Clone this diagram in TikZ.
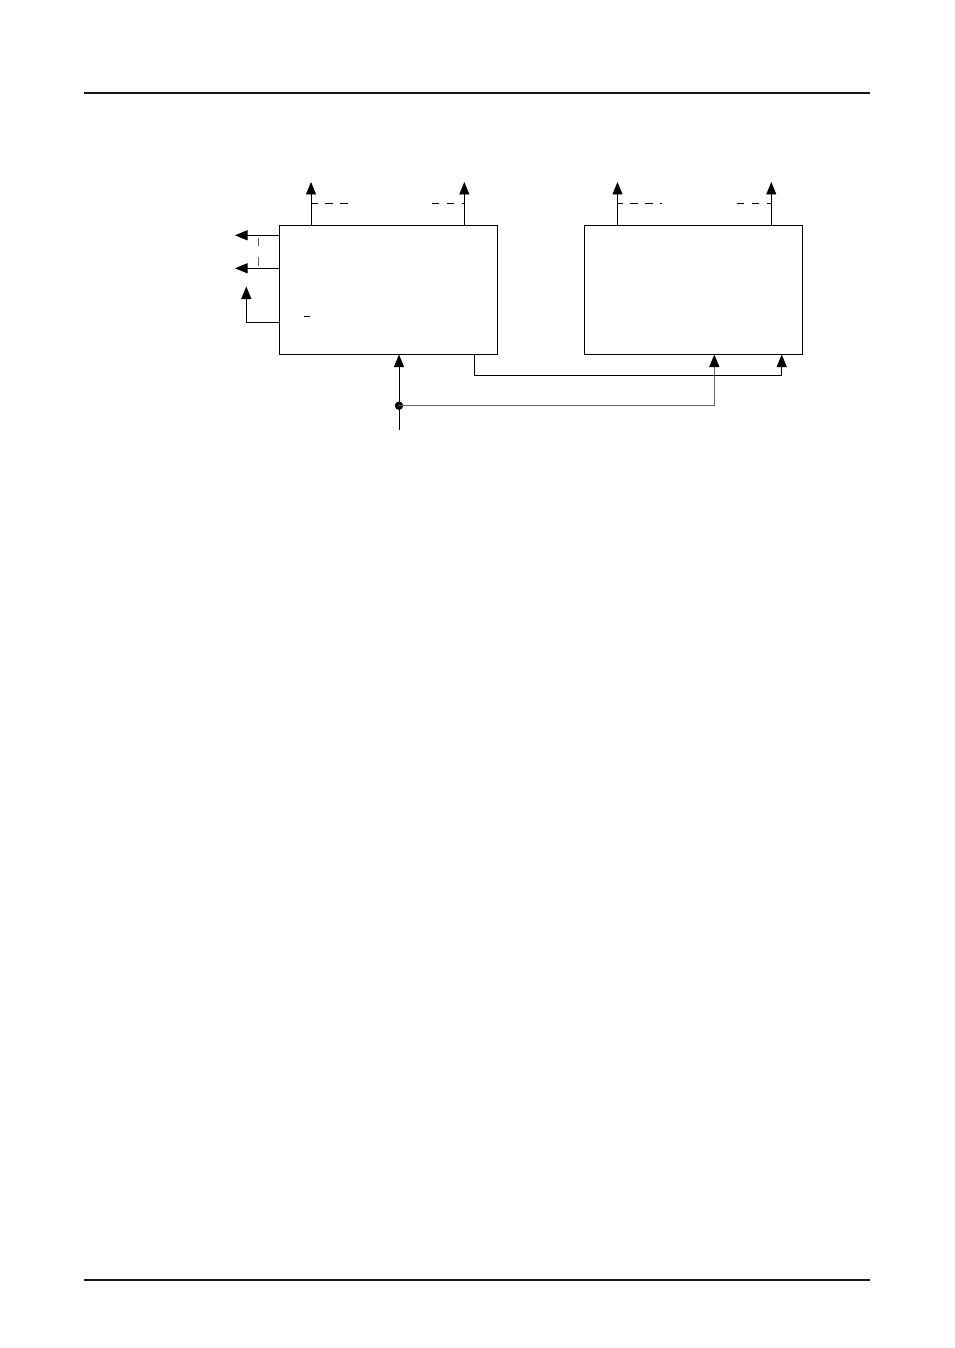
\documentclass[tikz,border=0pt]{standalone}
\usetikzlibrary{arrows.meta,calc}
\begin{document}
\begin{tikzpicture}[x=1pt,y=-1pt,
  blk/.style={draw,line width=0.9pt,minimum width=218pt,minimum height=129pt,inner sep=0pt,outer sep=0pt,anchor=north west},
  ln/.style={line width=0.9pt},
  arr/.style={line width=0.9pt,-{Triangle[length=12.5pt,width=10pt]}},
  dsh/.style={line width=0.9pt,dash pattern=on 7.5pt off 7.5pt},
  gdsh/.style={line width=0.9pt,draw=black!60,dash pattern=on 8.5pt off 11pt},
  rule/.style={line width=1.6pt,draw=black!90}]
\useasboundingbox (0,0) rectangle (954,1348);
% page rules
\coordinate (r1a) at (84,93); \coordinate (r1b) at (870,93);
\coordinate (r2a) at (84,1280); \coordinate (r2b) at (870,1280);
\draw[rule] (r1a) -- (r1b);
\draw[rule] (r2a) -- (r2b);
% blocks
\node[blk] (A) at (279,225.5) {};
\node[blk] (B) at (584.5,225.5) {};
% top outputs of A
\coordinate (a1t) at (311,182);
\coordinate (a2t) at (464.3,182);
\draw[arr] (A.north west -| a1t) -- (a1t);
\draw[arr] (A.north west -| a2t) -- (a2t);
\coordinate (a1d) at (311,203.3); \coordinate (a1e) at (348,203.3);
\coordinate (a2d) at (431.7,203.3); \coordinate (a2e) at (464.3,203.3);
\draw[dsh,dash phase=1pt] (a1d) -- (a1e);
\draw[dsh,dash pattern=on 7pt off 8pt] (a2d) -- (a2e);
% top outputs of B
\coordinate (b1t) at (617.5,182);
\coordinate (b2t) at (771.3,182);
\draw[arr] (B.north west -| b1t) -- (b1t);
\draw[arr] (B.north west -| b2t) -- (b2t);
\coordinate (b1d) at (617.5,203.3); \coordinate (b1e) at (662,203.3);
\coordinate (b2d) at (736.7,203.3); \coordinate (b2e) at (771.3,203.3);
\draw[dsh,dash phase=2.5pt] (b1d) -- (b1e);
\draw[dsh,dash pattern=on 7pt off 8pt] (b2d) -- (b2e);
% left outputs of A
\coordinate (l1) at (235,235.3);
\coordinate (l2) at (235,268.3);
\draw[arr] (A.north west |- l1) -- (l1);
\draw[arr] (A.north west |- l2) -- (l2);
\coordinate (v1) at (258,237.7); \coordinate (v2) at (258,266);
\draw[gdsh] (v1) -- (v2);
\coordinate (l3) at (246.3,322.7);
\coordinate (l3t) at (246.3,286.5);
\draw[arr] (A.north west |- l3) -- (l3) -- (l3t);
% small mark inside A
\coordinate (m1) at (304,316); \coordinate (m2) at (310,316);
\draw[ln] (m1) -- (m2);
% input at bottom
\coordinate (in) at (399,429.5);
\coordinate (dot) at (399,405.7);
\draw[arr] (in) -- (A.south west -| in);
\fill (dot) circle (4.2pt);
\coordinate (g1) at (714.3,405.7);
\draw[line width=0.9pt,draw=black!60,-{Triangle[length=12.5pt,width=10pt,color=black]}] (dot) -- (g1) -- (B.south west -| g1);
% A to B link
\coordinate (k0) at (474,375.3);
\coordinate (k1) at (781.7,375.3);
\draw[arr] (A.south west -| k0) -- (k0) -- (k1) -- (B.south west -| k1);
\end{tikzpicture}
\end{document}
